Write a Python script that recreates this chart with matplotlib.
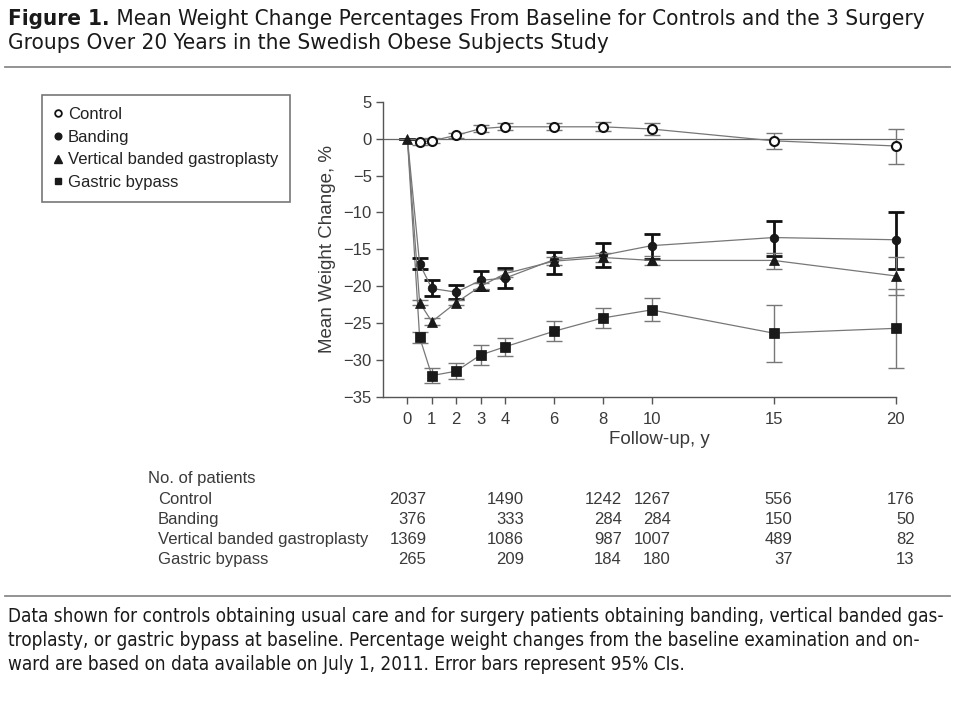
import matplotlib
matplotlib.use("Agg")
import matplotlib.pyplot as plt
from matplotlib import font_manager as fm
from matplotlib import transforms
from matplotlib.lines import Line2D
from matplotlib.font_manager import FontProperties
import numpy as np

# ---------------- data ----------------
years = [0, 0.5, 1, 2, 3, 4, 6, 8, 10, 15, 20]
xticks = [0, 1, 2, 3, 4, 6, 8, 10, 15, 20]
yticks = [5, 0, -5, -10, -15, -20, -25, -30, -35]

control_mean = [0, -0.45, -0.3, 0.45, 1.35, 1.6, 1.6, 1.6, 1.3, -0.3, -1.0]
control_lo = [0, -0.8, -0.65, 0.1, 0.9, 1.15, 1.1, 1.0, 0.55, -1.4, -3.45]
control_hi = [0, -0.1, 0.05, 0.8, 1.8, 2.05, 2.1, 2.2, 2.05, 0.8, 1.35]

banding_mean = [0, -16.95, -20.3, -20.8, -19.2, -18.9, -16.4, -15.8, -14.5, -13.4, -13.7]
banding_lo = [0, -17.7, -21.3, -21.7, -20.5, -20.3, -18.3, -17.4, -16.3, -15.9, -17.6]
banding_hi = [0, -16.2, -19.2, -19.8, -18.0, -17.5, -15.3, -14.1, -12.9, -11.1, -9.9]

vbg_mean = [0, -22.2, -24.8, -22.2, -20.0, -18.3, -16.6, -16.1, -16.5, -16.5, -18.6]
vbg_lo = [0, -22.6, -25.25, -22.55, -20.4, -18.75, -17.1, -16.65, -17.1, -17.6, -21.2]
vbg_hi = [0, -21.8, -24.35, -21.85, -19.6, -17.85, -16.1, -15.55, -15.9, -15.5, -16.0]

bypass_mean = [0, -26.9, -32.1, -31.5, -29.3, -28.2, -26.1, -24.3, -23.2, -26.35, -25.7]
bypass_lo = [0, -27.65, -33.1, -32.6, -30.6, -29.4, -27.45, -25.65, -24.75, -30.2, -31.05]
bypass_hi = [0, -26.15, -31.1, -30.4, -28.0, -27.0, -24.75, -22.95, -21.65, -22.5, -20.35]

series_labels = ["Control", "Banding", "Vertical banded gastroplasty", "Gastric bypass"]

count_years = [0, 4, 8, 10, 15, 20]
control_n = [2037, 1490, 1242, 1267, 556, 176]
banding_n = [376, 333, 284, 284, 150, 50]
vbg_n = [1369, 1086, 987, 1007, 489, 82]
bypass_n = [265, 209, 184, 180, 37, 13]

title_bold = "Figure 1."
title_line1 = " Mean Weight Change Percentages From Baseline for Controls and the 3 Surgery"
title_line2 = "Groups Over 20 Years in the Swedish Obese Subjects Study"
foot_lines = [
    "Data shown for controls obtaining usual care and for surgery patients obtaining banding, vertical banded gas-",
    "troplasty, or gastric bypass at baseline. Percentage weight changes from the baseline examination and on-",
    "ward are based on data available on July 1, 2011. Error bars represent 95% CIs.",
]

# ---------------- fonts ----------------
def pick_condensed(bold):
    cands = []
    for f in fm.fontManager.ttflist:
        fn = f.fname.replace("\\", "/").split("/")[-1].lower()
        if f.style != "normal":
            continue
        w = f.weight if isinstance(f.weight, (int, float)) else (700 if "bold" in str(f.weight) else 400)
        if bold != (w >= 600):
            continue
        if bold and ("extrabold" in fn or "black" in fn or "semibold" in fn):
            continue
        if not bold and any(k in fn for k in ["light", "thin", "medium", "semibold"]):
            continue
        score = None
        if f.name in ("Noto Sans", "Open Sans") and "semicondensed" in fn and "extra" not in fn:
            score = 0
        elif f.name in ("Noto Sans", "Open Sans") and "condensed" in fn and "extra" not in fn and "semi" not in fn:
            score = 1
        elif f.name == "Liberation Sans Narrow":
            score = 2
        elif f.name == "DejaVu Sans" and "condensed" in fn:
            score = 3
        if score is not None:
            cands.append((score, f.fname))
    if cands:
        cands.sort()
        return FontProperties(fname=cands[0][1])
    return FontProperties(family="Liberation Sans", weight="bold" if bold else "normal")

cond_reg = pick_condensed(False)
cond_bold = pick_condensed(True)

plt.rcParams["font.family"] = ["Liberation Sans", "DejaVu Sans"]
plt.rcParams["axes.unicode_minus"] = True

W, H = 960, 720
fig = plt.figure(figsize=(W / 100, H / 100), dpi=100)
fig.patch.set_facecolor("white")

def fx(x):
    return x / W

def fy(y):
    return 1 - y / H

# ---------------- axes ----------------
x_left, x_right = 383, 903
y_top, y_bot = 101.7, 397.0
ax = fig.add_axes([fx(x_left), fy(y_bot), (x_right - x_left) / W, (y_bot - y_top) / H])
ax.set_xlim(-1, 20.3)
ax.set_ylim(-35, 5)
for s in ["top", "right"]:
    ax.spines[s].set_visible(False)
for s in ["left", "bottom"]:
    ax.spines[s].set_color("#555555")
    ax.spines[s].set_linewidth(1.0)
ax.spines["bottom"].set_bounds(-1, 20)
ax.set_xticks(xticks)
ax.set_yticks(yticks)
txt_c = "#3a3a3a"
ax.tick_params(axis="both", direction="out", length=5, width=1.0, color="#555555",
               labelsize=12, labelcolor=txt_c, pad=3)
ax.tick_params(axis="x", pad=6)
ax.axhline(0, color="#666666", lw=0.9, zorder=1)

ax.set_xlabel("Follow-up, y", fontsize=13.5, color=txt_c)
ax.set_ylabel("Mean Weight Change, %", fontsize=13.5, color=txt_c)
ax.xaxis.set_label_coords((659 - x_left) / (x_right - x_left), -(440 - y_bot) / (y_bot - y_top))
ax.yaxis.set_label_coords(-(x_left - 327) / (x_right - x_left), 0.5)
ax.xaxis.label.set_va("center")
ax.yaxis.label.set_va("center")

line_c = "#777777"
yrs = np.array(years)

def draw(mean, lo, hi, marker, ms, face, ecol, elw, z, first_marker):
    mean = np.array(mean); lo = np.array(lo); hi = np.array(hi)
    ax.errorbar(yrs, mean, yerr=[mean - lo, hi - mean], fmt="none", ecolor=ecol,
                elinewidth=elw, capsize=5.5, capthick=elw, zorder=z, clip_on=False)
    ax.plot(yrs, mean, color=line_c, lw=0.9, zorder=z + 0.5, clip_on=False)
    start = 0 if first_marker else 1
    ax.plot(yrs[start:], mean[start:], linestyle="none", marker=marker, ms=ms, mfc=face,
            mec="#111111", mew=1.5 if face == "white" else 0.5, zorder=z + 1, clip_on=False)

draw(control_mean, control_lo, control_hi, "o", 6.5, "white", "#777777", 1.0, 2, False)
draw(bypass_mean, bypass_lo, bypass_hi, "s", 6.5, "#1a1a1a", "#777777", 1.0, 3, False)
draw(banding_mean, banding_lo, banding_hi, "o", 6.2, "#1a1a1a", "#111111", 2.0, 4, False)
draw(vbg_mean, vbg_lo, vbg_hi, "^", 7, "#1a1a1a", "#777777", 1.0, 6, True)

# ---------------- legend ----------------
handles = [
    Line2D([], [], linestyle="none", marker="o", ms=4.8, mfc="white", mec="#111111", mew=1.3),
    Line2D([], [], linestyle="none", marker="o", ms=4.8, mfc="#1a1a1a", mec="#1a1a1a"),
    Line2D([], [], linestyle="none", marker="^", ms=5.2, mfc="#1a1a1a", mec="#1a1a1a"),
    Line2D([], [], linestyle="none", marker="s", ms=4.8, mfc="#1a1a1a", mec="#1a1a1a"),
]
leg = ax.legend(handles, series_labels, loc="upper left", bbox_to_anchor=(fx(41.7), fy(95)),
                bbox_transform=fig.transFigure, frameon=True, fancybox=False, shadow=False,
                edgecolor="#777777", framealpha=1, fontsize=12, handlelength=0.5,
                handletextpad=0.35, borderpad=0.72, labelspacing=0.46, borderaxespad=0)
leg.get_frame().set_linewidth(1.2)
for t in leg.get_texts():
    t.set_color("#222222")

# ---------------- patient table ----------------
tcol = txt_c
fig.text(fx(148), fy(479), "No. of patients", fontsize=12, color=tcol, va="center", ha="left")
rows = [("Control", control_n), ("Banding", banding_n),
        ("Vertical banded gastroplasty", vbg_n), ("Gastric bypass", bypass_n)]
blend = transforms.blended_transform_factory(ax.transData, fig.transFigure)
offs = blend + transforms.ScaledTranslation(0.19, 0, fig.dpi_scale_trans)
row_y = [499.5, 519.5, 539.5, 559.5]
for (name, vals), yy in zip(rows, row_y):
    fig.text(fx(158), fy(yy), name, fontsize=12, color=tcol, va="center", ha="left")
    for xv, n in zip(count_years, vals):
        ax.text(xv, fy(yy), str(n), transform=offs, fontsize=12, color=tcol,
                va="center", ha="right", clip_on=False)

# ---------------- rules ----------------
for yy in (67.3, 595.7):
    fig.add_artist(Line2D([fx(5), fx(950)], [fy(yy), fy(yy)], color="#8a8a8a", lw=1.3,
                          transform=fig.transFigure))

# ---------------- title & footnote (fitted to widths) ----------------
fig.canvas.draw()
renderer = fig.canvas.get_renderer()

def width_px(txt):
    return txt.get_window_extent(renderer).width

base = 16
tb = fig.text(fx(8), fy(19), title_bold, fontproperties=cond_bold, fontsize=base,
              color="#1a1a1a", va="center", ha="left")
t1 = fig.text(0, fy(19), title_line1, fontproperties=cond_reg, fontsize=base,
              color="#1a1a1a", va="center", ha="left")
wsum = width_px(tb) + width_px(t1)
size_t = base * (923 - 8) / wsum
tb.set_fontsize(size_t)
t1.set_fontsize(size_t)
t1.set_x(fx(8 + width_px(tb)))
t2 = fig.text(fx(8), fy(43), title_line2, fontproperties=cond_reg, fontsize=size_t,
              color="#1a1a1a", va="center", ha="left")

f0 = fig.text(fx(8), fy(617), foot_lines[0], fontproperties=cond_reg, fontsize=base,
              color="#1a1a1a", va="center", ha="left")
size_f = base * (950 - 8) / width_px(f0)
f0.set_fontsize(size_f)
for line, yy in zip(foot_lines[1:], (641, 665)):
    fig.text(fx(8), fy(yy), line, fontproperties=cond_reg, fontsize=size_f,
             color="#1a1a1a", va="center", ha="left")

fig.savefig("out.png", dpi=100, facecolor="white")
